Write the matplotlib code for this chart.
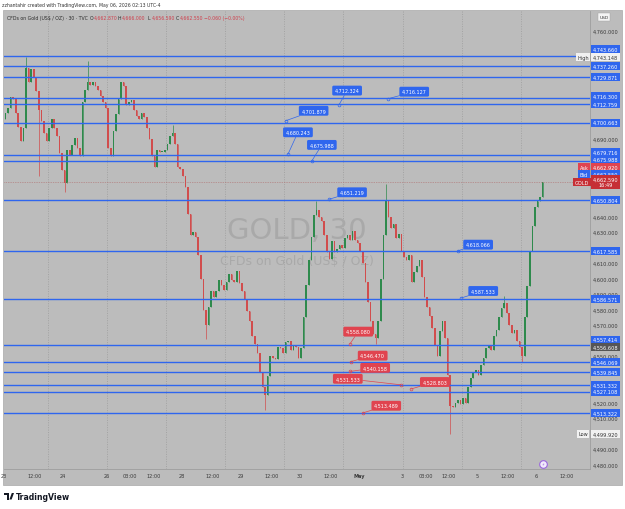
import matplotlib
matplotlib.use("Agg")
import matplotlib.pyplot as plt
import matplotlib.transforms as mtransforms
from matplotlib.patches import Rectangle, Polygon

# 30m gold chart at 1h steps
# x = trading hours since Apr 23 00:00 (daily break and weekend skipped)
first_open = 4703.0
closes = [
    4707, 4710, 4717, 4716, 4707, 4698, 4689, 4697, 4736, 4727,
    4735, 4730, 4721, 4709, 4702, 4694, 4689, 4697, 4703, 4697,
    4692, 4681, 4670, 4662, 4683, 4680, 4686, 4691, 4684, 4679,
    4714, 4722, 4727, 4725, 4727, 4724, 4722, 4718, 4714, 4710,
    4684, 4679, 4695, 4706, 4716, 4727, 4724, 4712, 4714, 4715,
    4709, 4705, 4703, 4707, 4704, 4697, 4690, 4679, 4672, 4683,
    4682, 4682, 4683, 4687, 4692, 4694, 4687, 4672, 4671, 4666,
    4659, 4642, 4628, 4630, 4627, 4615, 4600, 4580, 4570, 4582,
    4592, 4588, 4592, 4599, 4596, 4593, 4598, 4603, 4599, 4598,
    4605, 4597, 4592, 4587, 4579, 4573, 4563, 4558, 4552, 4540,
    4530, 4525, 4537, 4550, 4549, 4548, 4556, 4555, 4552, 4559,
    4560, 4554, 4557, 4556, 4549, 4555, 4575, 4596, 4612, 4627,
    4641, 4644, 4640, 4637, 4628, 4617, 4613, 4624, 4617, 4619,
    4622, 4620, 4626, 4628, 4625, 4631, 4625, 4623, 4618, 4610,
    4598, 4585, 4573, 4564, 4562, 4573, 4600, 4628, 4650, 4640,
    4633, 4635, 4626, 4629, 4618, 4614, 4612, 4615, 4598, 4604,
    4608, 4612, 4601, 4588, 4582, 4576, 4568, 4557, 4550, 4566,
    4573, 4562, 4538, 4518, 4517, 4520, 4522, 4519, 4523, 4520,
    4530, 4536, 4540, 4541, 4538, 4544, 4549, 4555, 4557, 4554,
    4563, 4567, 4575, 4581, 4584, 4578, 4570, 4565, 4567, 4560,
    4556, 4550, 4575, 4595, 4618, 4634, 4646, 4650, 4653, 4662.59,
]
wick_hi = {8: 4743.15, 32: 4740.5, 65: 4699.0, 121: 4650.0, 148: 4661.0, 194: 4589.0}
wick_lo = {13: 4666.0, 23: 4656.0, 78: 4561.0, 101: 4515.0, 144: 4558.0, 173: 4499.92, 201: 4546.0}

tick_hours = [0, 12, 23, 40, 49, 58, 69, 81, 92, 104, 115, 127, 138, 155, 164, 173, 184, 196, 207, 219]
tick_text = ['23', '12:00', '24', '26', '03:00', '12:00', '28', '12:00', '29', '12:00', '30',
             '12:00', 'May', '3', '03:00', '12:00', '5', '12:00', '6', '12:00']
session_hours = [17, 40, 63, 86, 109, 132, 155, 178, 201]
# price scale values that are not hidden behind a tag
price_ticks = [4760, 4720, 4690, 4640, 4630, 4610, 4600, 4590, 4580, 4570, 4550, 4520, 4510, 4490, 4480]

levels = [4743.660, 4737.260, 4729.871, 4716.300, 4712.759, 4700.663, 4679.716, 4675.988,
          4650.804, 4617.585, 4586.571, 4557.414, 4546.069, 4539.845, 4531.332, 4527.108, 4513.322]

note_prices = [4712.324, 4716.127, 4701.879, 4680.243, 4675.988, 4651.219, 4618.066, 4587.533,
               4558.080, 4546.470, 4540.158, 4531.533, 4528.803, 4513.489]
note_hours = [130.3, 149.4, 109.5, 110.4, 119.7, 126.4, 176.6, 177.8,
              134.6, 134.8, 134.6, 154.3, 158.2, 139.7]
note_red = [False] * 8 + [True] * 6

last_price = 4662.59
bid, ask = 4662.550, 4662.920
day_high, day_low = 4743.148, 4499.920
marker_price = 4556.608

BG = '#bcbcbc'
BLUE = '#2f66ee'
RED = '#e0444f'
UP, DOWN = '#2e8a4c', '#d14d4d'

W, H = 625, 510
fx = lambda px: px / W
fy = lambda py: 1 - py / H

fig = plt.figure(figsize=(6.25, 5.1), dpi=100, facecolor='white')
fig.patches.append(Rectangle((fx(3), fy(486)), fx(622) - fx(3), fy(11) - fy(486),
                             transform=fig.transFigure, fc=BG, ec='#a8a8a8', lw=0.5, zorder=-5))
ax = fig.add_axes([fx(4), fy(470), fx(590) - fx(4), fy(12) - fy(470)])
ax.set_zorder(1)
ax.set_facecolor(BG)
ax.set_xlim(-0.06, 227.9)
ax.set_ylim(4477.2, 4772.7)

# grid at session opens
for g in session_hours:
    ax.axvline(g, color='#9a9a9a', lw=0.5, ls=(0, (1.5, 2)), zorder=0.5)

# watermark
ax.text(0.5, 0.522, 'GOLD, 30', transform=ax.transAxes, ha='center', va='center',
        fontsize=21, color='#a9a9a9', zorder=0.6)
ax.text(0.5, 0.456, 'CFDs on Gold (US$ / OZ)', transform=ax.transAxes, ha='center', va='center',
        fontsize=9, color='#a9a9a9', zorder=0.6)

# candles
prev = first_open
for i, c in enumerate(closes):
    o = prev
    hi = max(o, c, wick_hi.get(i, c))
    lo = min(o, c, wick_lo.get(i, c))
    col = UP if c >= o else DOWN
    x = i + 0.5
    ax.vlines(x, lo, hi, color=col, lw=0.5, zorder=2)
    ax.bar(x, max(abs(c - o), 0.4), bottom=min(o, c), width=0.62, color=col, lw=0, zorder=2)
    prev = c

# horizontal levels
for p in levels:
    ax.axhline(p, color=BLUE, lw=1.0, zorder=3)
ax.axhline(last_price, color='#b06868', lw=0.5, ls=(0, (1, 1.5)), zorder=2.5)

# price labels drawn on the chart
offsets = [(8, 14), (26, 7), (28, 10), (10, 22), (10, 16), (23, 7), (20, 6), (22, 7),
           (8, 12), (22, 6), (25, 3.5), (-53, 6), (24, 7), (23, 7)]
for p, h, red, (dx, dy) in zip(note_prices, note_hours, note_red, offsets):
    col = RED if red else BLUE
    ax.annotate(f'{p:,.3f}', xy=(h, p), xytext=(dx * 0.72, dy * 0.72), textcoords='offset points',
                ha='center', va='center', fontsize=3.5, color='white', zorder=6,
                bbox=dict(boxstyle='round,pad=0.5,rounding_size=0.3', fc=col, ec='none'),
                arrowprops=dict(arrowstyle='-', color=col, lw=0.5, shrinkA=0, shrinkB=0))
    ax.plot(h, p, 'o', mfc='none', mec=col, ms=2, mew=0.5, zorder=6)

# event marker
xb = mtransforms.blended_transform_factory(ax.transData, ax.transAxes)
ax.plot(len(closes) - 0.5, 0.011, 'o', transform=xb,
        ms=5.5, mfc='#f2ecfb', mec='#9a66dd', mew=0.8, zorder=6, clip_on=False)
ax.text(len(closes) - 0.5, 0.011, '⚡', transform=xb,
        ha='center', va='center', fontsize=3, color='#9a66dd', zorder=7)

# axes styling
for s in ['top', 'left']:
    ax.spines[s].set_visible(False)
for s in ['right', 'bottom']:
    ax.spines[s].set_color('#9e9e9e')
    ax.spines[s].set_linewidth(0.6)
ax.yaxis.tick_right()
ax.set_yticks(price_ticks)
ax.set_yticklabels([f'{v:,.3f}' for v in price_ticks])
ax.tick_params(axis='y', length=0, pad=2.2, labelsize=3.6, labelcolor='#3a3a3a')
ax.set_xticks(tick_hours)
ax.set_xticklabels(tick_text)
ax.tick_params(axis='x', length=0, pad=3, labelsize=3.6, labelcolor='#3a3a3a')
for lab in ax.get_xticklabels():
    if lab.get_text() == 'May':
        lab.set_fontweight('bold')

# tags on the price scale
blend = mtransforms.blended_transform_factory(ax.transAxes, ax.transData)
AXW = 586.0


def axis_box(text, price, fc, tc='white', px=605.5, shift=0.0, fs=3.6):
    tr = mtransforms.offset_copy(blend, fig=fig, y=shift * 0.72, units='points')
    ax.text((px - 4) / AXW, price, text, transform=tr, ha='center', va='center', fontsize=fs,
            color=tc, zorder=8, clip_on=False, linespacing=1.1,
            bbox=dict(boxstyle='square,pad=0.3', fc=fc, ec='none'))


shifts = {4743.660: 7, 4716.300: 2, 4679.716: 2.8, 4675.988: 1.2, 4557.414: 5}
for p in levels:
    axis_box(f'{p:,.3f}', p, BLUE, shift=shifts.get(p, 0))
axis_box('High', day_high, '#f1f1f1', tc='#333333', px=583, shift=-0.5)
axis_box(f'{day_high:,.3f}', day_high, '#f1f1f1', tc='#333333', shift=-0.5)
axis_box('Low', day_low, '#f1f1f1', tc='#333333', px=583)
axis_box(f'{day_low:,.3f}', day_low, '#f1f1f1', tc='#333333')
axis_box('Ask', ask, RED, px=584, shift=14)
axis_box(f'{ask:,.3f}', ask, RED, shift=14)
axis_box('Bid', bid, BLUE, px=584, shift=7.7)
axis_box(f'{bid:,.3f}', bid, BLUE, shift=7.7)
axis_box('GOLD', last_price, '#c62f35', px=582, shift=-0.5)
axis_box(f'{last_price:,.3f}\n16:49', last_price, '#c62f35', shift=-0.5)
axis_box(f'{marker_price:,.3f}', marker_price, '#555555', shift=-1)
fig.text(fx(604), fy(18), 'USD', ha='center', va='center', fontsize=3.2, color='#333333', zorder=5,
         bbox=dict(boxstyle='square,pad=0.4', fc='#f4f4f4', ec='#a0a0a0', lw=0.3))

# header texts
fig.text(fx(2), fy(5), 'zzhantahir created with TradingView.com, May 06, 2026 02:13 UTC-4',
         ha='left', va='center', fontsize=3.3, color='#333333')
hdr_red = '#cf3f4c'
header = [('CFDs on Gold (US$ / OZ) · 30 · TVC', '#2a2a2a', 7), ('O', '#2a2a2a', 90),
          ('4,662.870', hdr_red, 94), ('H', '#2a2a2a', 118), ('4,666.000', hdr_red, 122),
          ('L', '#2a2a2a', 148), ('4,656.590', hdr_red, 152), ('C', '#2a2a2a', 176),
          ('4,662.550', hdr_red, 180), ('−0.060 (−0.00%)', hdr_red, 204)]
for txt, col, px in header:
    fig.text(fx(px), fy(18.5), txt, ha='left', va='center', fontsize=3.3, color=col, zorder=5)

# TradingView logo
fig.patches.append(Polygon([(fx(4), fy(494)), (fx(8.8), fy(494)), (fx(8.8), fy(500.5)),
                            (fx(6.6), fy(500.5)), (fx(6.6), fy(496.3)), (fx(4), fy(496.3))],
                           closed=True, transform=fig.transFigure, fc='#131722', ec='none'))
fig.patches.append(Polygon([(fx(9.4), fy(500.5)), (fx(11.8), fy(494)), (fx(14), fy(494)),
                            (fx(11.6), fy(500.5))],
                           closed=True, transform=fig.transFigure, fc='#131722', ec='none'))
fig.text(fx(15.5), fy(497.3), 'TradingView', ha='left', va='center', fontsize=5.6,
         fontweight='bold', color='#131722')

fig.savefig('out.png', dpi=100, facecolor='white')
